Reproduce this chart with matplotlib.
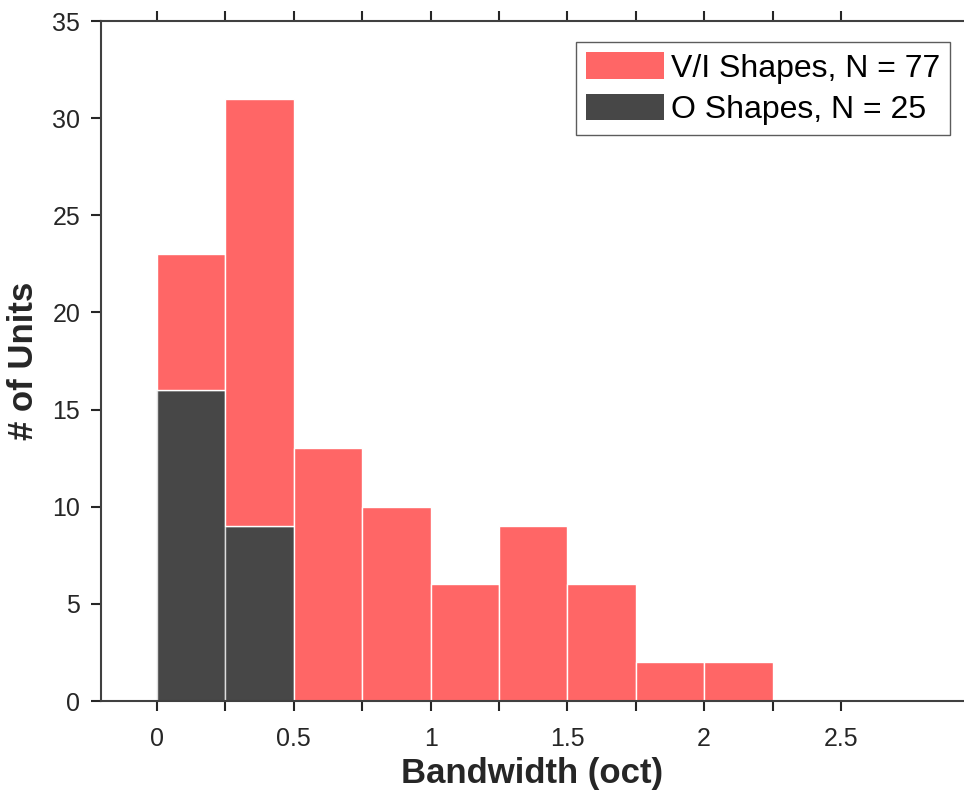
import numpy as np
import matplotlib.pyplot as plt

plt.rcParams['font.family'] = ['Liberation Sans', 'DejaVu Sans']

# histogram bins (octaves) and counts
bin_edges = [0, 0.25, 0.5, 0.75, 1.0, 1.25, 1.5, 1.75, 2.0, 2.25, 2.5]
o_counts = [16, 9, 0, 0, 0, 0, 0, 0, 0, 0]
vi_counts = [7, 22, 13, 10, 6, 9, 6, 2, 2, 0]

red = '#FF6666'
dark = '#474747'
axis_col = '#262626'

fig = plt.figure(figsize=(9.64, 7.93), dpi=100)
ax = fig.add_axes([0.1048, 0.116, 0.8952, 0.8575])

left = np.array(bin_edges[:-1])
ax.bar(left, o_counts, width=0.25, align='edge', color=dark,
       edgecolor='#DDDDDD', linewidth=1.0, label='O Shapes, N = 25', zorder=2)
ax.bar(left, vi_counts, width=0.25, align='edge', bottom=o_counts, color=red,
       edgecolor='white', linewidth=1.0, label='V/I Shapes, N = 77', zorder=2)

ax.set_xlim(-0.205, 2.95)
ax.set_ylim(0, 35)
ax.set_xticks(np.arange(0, 2.51, 0.25))
ax.set_xticklabels(['0', '', '0.5', '', '1', '', '1.5', '', '2', '', '2.5'])
ax.set_yticks(np.arange(0, 36, 5))

ax.tick_params(axis='x', direction='out', top=True, length=7, width=1.5,
               colors=axis_col, labelsize=18, pad=12)
ax.tick_params(axis='y', direction='out', length=7, width=1.5,
               colors=axis_col, labelsize=18, pad=8)
for side in ['left', 'top', 'bottom']:
    ax.spines[side].set_color('#404040')
    ax.spines[side].set_linewidth(1.5)
ax.spines['right'].set_visible(False)

ax.set_xlabel('Bandwidth (oct)', fontsize=25, fontweight='bold',
              color=axis_col, labelpad=4)
ax.set_ylabel('# of Units', fontsize=25, fontweight='bold',
              color=axis_col, labelpad=8.5)

handles, labels = ax.get_legend_handles_labels()
leg = ax.legend(handles[::-1], labels[::-1], loc='upper left',
                bbox_to_anchor=(0.550, 0.969), fontsize=23, frameon=True,
                fancybox=False, edgecolor='#333333', handlelength=2.45,
                handleheight=0.9, handletextpad=0.2, borderpad=0.32,
                labelspacing=0.32, borderaxespad=0)
leg.get_frame().set_linewidth(1.0)
for h in leg.legend_handles:
    h.set_edgecolor('none')

fig.savefig('out.png', dpi=100)
